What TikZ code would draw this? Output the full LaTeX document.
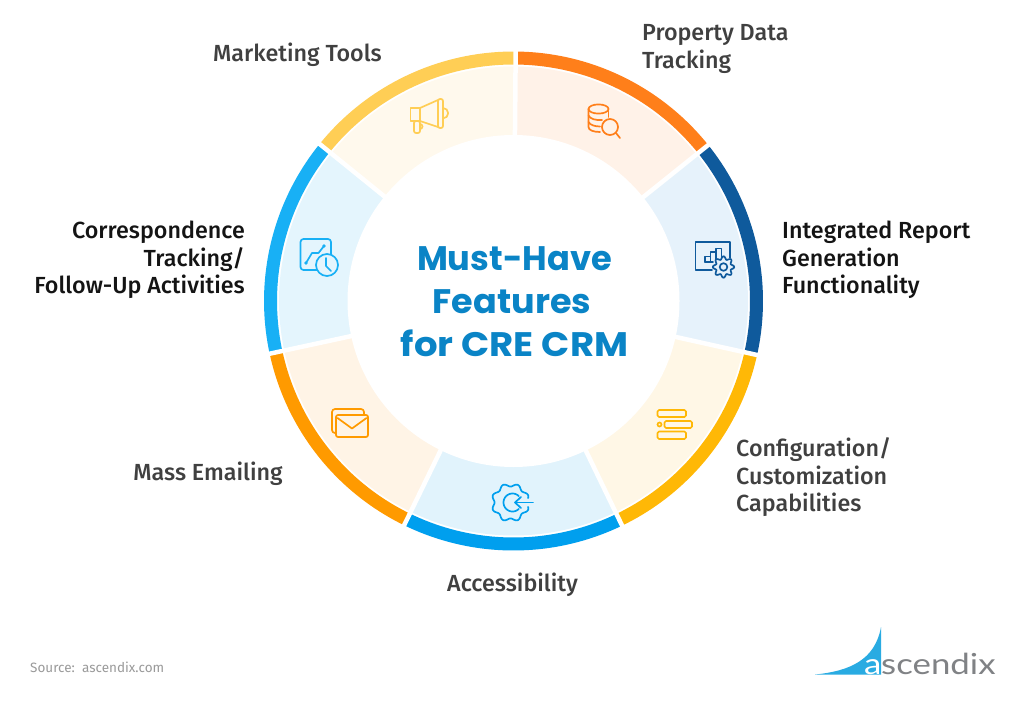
\documentclass[tikz,border=0pt]{standalone}
\usepackage{fontspec}
\usepackage{graphicx}
\setmainfont{Fira Sans}
\newfontfamily\lab{Fira Sans Medium}
\newfontfamily\srcf{Fira Sans}
\newfontfamily\ttl{Poppins}[UprightFont=*-Bold]
\newfontfamily\logo{Lato}[FakeStretch=1.2]
\definecolor{cOr}{HTML}{FF7F1A}\definecolor{pOr}{HTML}{FFF2E8}
\definecolor{cNa}{HTML}{0F5A9C}\definecolor{pNa}{HTML}{E6F2FB}
\definecolor{cAm}{HTML}{FFB806}\definecolor{pAm}{HTML}{FFF7E6}
\definecolor{cAc}{HTML}{009FEE}\definecolor{pAc}{HTML}{E1F3FC}
\definecolor{cMa}{HTML}{FF9A00}\definecolor{pMa}{HTML}{FFF4E6}
\definecolor{cCo}{HTML}{18B0F5}\definecolor{pCo}{HTML}{E4F5FD}
\definecolor{cYe}{HTML}{FFCE55}\definecolor{pYe}{HTML}{FFF9ED}
\definecolor{ttlc}{HTML}{0A84C6}\definecolor{grayt}{HTML}{404040}
\definecolor{blk}{HTML}{141414}\definecolor{srcc}{HTML}{9A9A9A}
\definecolor{logob}{HTML}{29ABE2}\definecolor{logog}{HTML}{808285}
\tikzset{
  lbl/.style={inner sep=0pt,font=\lab\fontsize{23.3}{27.5}\selectfont,text=grayt},
  icon/.style={line width=1.7pt,line join=round,line cap=round,fill=none},
}
\newcommand{\sect}[4]{%
  \fill[#4] plot[domain=#1:#2,samples=40] ({513.5+234.5*sin(\x)},{301-234.5*cos(\x)})
     -- plot[domain=#2:#1,samples=40] ({513.5+160*sin(\x)},{301-160*cos(\x)}) -- cycle;
  \fill[#3] plot[domain=#1:#2,samples=40] ({513.5+249.5*sin(\x)},{301-249.5*cos(\x)})
     -- plot[domain=#2:#1,samples=40] ({513.5+236.5*sin(\x)},{301-236.5*cos(\x)}) -- cycle;
}
\newcommand{\gapl}[1]{\draw[white,line width=4.5pt] (513.5,301) -- ({513.5+255*sin(#1)},{301-255*cos(#1)});}
\begin{document}
\begin{tikzpicture}[x=1pt,y=-1pt]
\useasboundingbox (0,0) rectangle (1024,706);
\fill[white] (0,0) rectangle (1024,706);
\sect{0.5}{51.3}{cOr}{pOr}
\sect{51.3}{102.5}{cNa}{pNa}
\sect{102.5}{154.2}{cAm}{pAm}
\sect{154.2}{206}{cAc}{pAc}
\sect{206}{257.8}{cMa}{pMa}
\sect{257.8}{309}{cCo}{pCo}
\sect{309}{360.5}{cYe}{pYe}
\gapl{0.5}\gapl{51.3}\gapl{102.5}\gapl{154.2}\gapl{206}\gapl{257.8}\gapl{309}
\fill[white] (513.5,301) circle[radius=166];
% Title
\node[font=\ttl\fontsize{34}{43}\selectfont,text=ttlc,align=center,inner sep=0pt] (title) at (514.5,302) {\scalebox{0.99}[1]{Must-Have}\\\hspace*{-5pt}\scalebox{1.03}[1]{Features}\\\scalebox{1.09}[1]{for CRE CRM}};
% Labels
\node[lbl,anchor=center] (mkt) at (297.5,55) {Marketing Tools};
\node[lbl,anchor=west,align=left] (prop) at (642,49) {Property Data\\Tracking};
\node[lbl,anchor=west,align=left,text=blk] (integ) at (782,260) {Integrated Report\\Generation\\Functionality};
\node[lbl,anchor=west,align=left] (conf) at (736,477.5) {Configuration/\\Customization\\Capabilities};
\node[lbl,anchor=center] (acc) at (512.5,585) {Accessibility};
\node[lbl,anchor=center] (mass) at (208,474) {Mass Emailing};
\node[lbl,anchor=east,align=right,text=blk] (corr) at (245,260) {Correspondence\\Tracking/\\Follow-Up Activities};
\node[font=\srcf\fontsize{13.5}{17}\selectfont,text=srcc,anchor=west,inner sep=0pt] (src) at (30,667) {Source:\ \ ascendix.com};
% Icon: data search
\begin{scope}[icon,draw=cOr]
  \draw (598.5,109) ellipse[x radius=10,y radius=4.6];
  \draw (588.5,109) -- (588.5,127) .. controls (588.5,130) and (593,132) .. (600,132);
  \draw (608.5,109) -- (608.5,117);
  \draw (588.5,115.5) .. controls (590,119) and (596,120.5) .. (602,120);
  \draw (588.5,122) .. controls (590,125) and (595,126.5) .. (600,126.5);
  \draw[fill=pOr] (610,127) circle[radius=8];
  \draw (616,133) -- (620,138);
\end{scope}
% Icon: report
\begin{scope}[icon,draw=cNa]
  \draw (712,270) -- (695.5,270) -- (695.5,242) -- (730,242) -- (730,258);
  \draw (705,262) -- (705,256.5) -- (710.5,256.5) -- (710.5,262);
  \draw (710.5,256.5) -- (710.5,252) -- (716,252) -- (716,262);
  \draw (716,252) -- (716,248.5) -- (721.5,248.5) -- (721.5,257);
  \draw (705,262) -- (713,262);
  \draw[fill=pNa,smooth,samples=96,domain=0:360] plot ({723.5+(9.2+1.5*cos(8*\x))*cos(\x)},{267+(9.2+1.5*cos(8*\x))*sin(\x)}) -- cycle;
  \draw (723.5,267) circle[radius=3.8];
\end{scope}
% Icon: config
\begin{scope}[icon,draw=cAm]
  \draw[rounded corners=1.5] (657.5,410) rectangle (686,417);
  \draw[rounded corners=1.5] (664.5,421) rectangle (692,428);
  \draw (659.5,424.5) circle[radius=2];
  \draw[rounded corners=1.5] (657.5,431.5) rectangle (686,439);
\end{scope}
% Icon: gear arrow
\begin{scope}[icon,draw=cAc]
  \draw plot[domain=14:346,samples=120] ({510.5+(17.5+1.6*cos(8*\x+180))*cos(\x)},{502.5+(17.5+1.6*cos(8*\x+180))*sin(\x)});
  \draw plot[domain=45:315,samples=40] ({512.5+9*cos(\x)},{502.5+9*sin(\x)});
  \draw (533,502.5) -- (515,502.5);
  \draw (521,497) -- (515,502.5) -- (521,508);
\end{scope}
% Icon: mail
\begin{scope}[icon,draw=cMa]
  \draw[rounded corners=3] (335.5,433) -- (332,433) -- (332,409) -- (364,409) -- (364,415);
  \draw[rounded corners=2,fill=pMa] (336,415) rectangle (368,437);
  \draw (337.5,418) -- (352,428.5) -- (366.5,418);
\end{scope}
% Icon: chart clock
\begin{scope}[icon,draw=cCo]
  \draw[rounded corners=3] (300.5,239) rectangle (331,270);
  \draw (306,263) -- (312,253) -- (318.5,253) -- (324,246);
  \fill[cCo] (306,263) circle[radius=1.8] (324,246) circle[radius=1.8];
  \draw[fill=pCo] (327,265) circle[radius=11];
  \draw (326,258) -- (326,266) -- (331,271);
\end{scope}
% Icon: megaphone
\begin{scope}[icon,draw=cYe]
  \draw (420,108) rectangle (410.5,121);
  \draw (420,108) -- (438,100) (420,121) -- (438,127);
  \draw[rounded corners=2] (438,99) rectangle (443,128);
  \draw (443,108) arc[start angle=-90,end angle=90,radius=5.2];
  \draw[rounded corners=2] (414,121) rectangle (420,133);
  \draw (420,124) arc[start angle=-90,end angle=90,radius=2.5];
\end{scope}
% Logo
\fill[logob] (815,674.5) .. controls (850,671) and (875,660) .. (881,627) -- (881,674.5) -- cycle;
\node[font=\logo\fontsize{29}{31}\selectfont,text=white,anchor=base west,inner sep=0pt] (logoa) at (864,674) {a};
\node[font=\logo\fontsize{29}{31}\selectfont,text=logog,anchor=base west,inner sep=0pt] (logot) at (881,674) {scendix};
\end{tikzpicture}
\end{document}
